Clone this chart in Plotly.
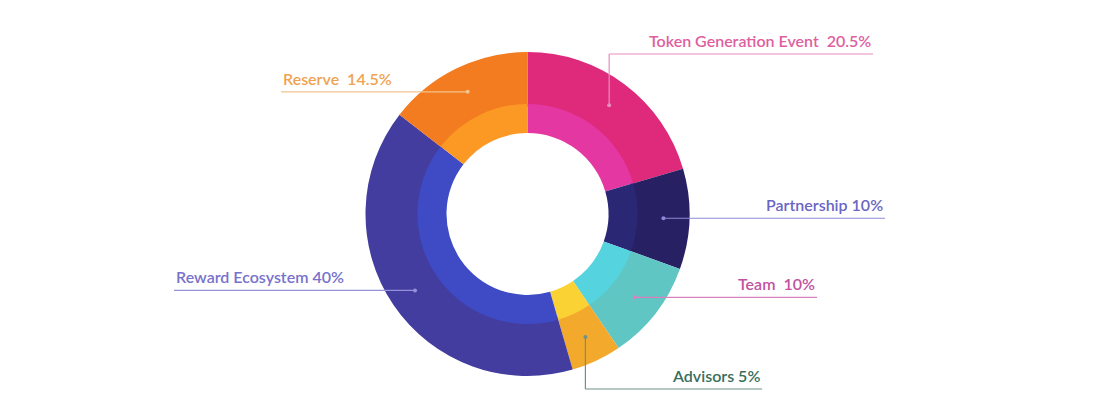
import math
import plotly.graph_objects as go

# ---- data ----
categories = ["Token Generation Event", "Partnership", "Team", "Advisors", "Reward Ecosystem", "Reserve"]
shares = [20.5, 10, 10, 5, 40, 14.5]
label_texts = ["Token Generation Event  20.5%", "Partnership 10%", "Team  10%", "Advisors 5%",
               "Reward Ecosystem 40%", "Reserve  14.5%"]

outer_colors = ["#df2a7c", "#272062", "#5fc6c4", "#f2a92c", "#433d9f", "#f27c1f"]
inner_colors = ["#e437a2", "#2a2774", "#55d3df", "#fbd234", "#3e4bc5", "#fb9924"]
text_colors = ["#de5fa0", "#6a66c3", "#c2529f", "#386e5e", "#7772cc", "#efa352"]
line_colors = ["#e88cc0", "#8d89d6", "#d982bd", "#6f9188", "#9490da", "#f3c48e"]

W, H = 1118, 399
OFF = 8  # page body margin
CX, CY = 527.5, 214.0
R_OUT, R_MID, R_HOLE = 162.0, 110.0, 81.0
R_DOT = (R_OUT + R_MID) / 2
FW, FH = W - OFF, H - OFF

fig = go.Figure()

def domain(r):
    return dict(x=[(CX - OFF - r) / FW, (CX - OFF + r) / FW],
                y=[1 - (CY - OFF + r) / FH, 1 - (CY - OFF - r) / FH])

fig.add_trace(go.Pie(labels=categories, values=shares, sort=False, direction="clockwise",
                     rotation=0, hole=(R_MID - 3) / R_OUT, domain=domain(R_OUT),
                     marker=dict(colors=outer_colors, line=dict(width=0)),
                     textinfo="none", hoverinfo="label+percent", showlegend=False))
fig.add_trace(go.Pie(labels=categories, values=shares, sort=False, direction="clockwise",
                     rotation=0, hole=R_HOLE / R_MID, domain=domain(R_MID),
                     marker=dict(colors=inner_colors, line=dict(width=0)),
                     textinfo="none", hoverinfo="label+percent", showlegend=False))

callouts = [
    ("vup", 873, 54),
    ("h", 885, None),
    ("h", 817, None),
    ("vdown", 762, 389),
    ("h", 174, None),
    ("h", 281, None),
]

total = sum(shares)
cum = 0.0
shapes = []
annotations = []
for i, v in enumerate(shares):
    mid = (cum + v / 2) / total * 2 * math.pi
    cum += v
    dx = CX + R_DOT * math.sin(mid)
    dy = CY - R_DOT * math.cos(mid)
    mode, ex, ly = callouts[i]
    col = line_colors[i]
    if mode == "h":
        ly = dy
        shapes.append(dict(type="line", x0=dx, y0=dy, x1=ex, y1=dy, xref="x", yref="y",
                           line=dict(color=col, width=1.2)))
    else:
        shapes.append(dict(type="line", x0=dx, y0=dy, x1=dx, y1=ly, xref="x", yref="y",
                           line=dict(color=col, width=1.2)))
        shapes.append(dict(type="line", x0=dx, y0=ly, x1=ex, y1=ly, xref="x", yref="y",
                           line=dict(color=col, width=1.2)))
    shapes.append(dict(type="circle", x0=dx - 2, y0=dy - 2, x1=dx + 2, y1=dy + 2, xref="x", yref="y",
                       fillcolor=col, line=dict(width=0)))
    right_side = ex > dx
    annotations.append(dict(x=ex, y=ly - 2, xref="x", yref="y", text=label_texts[i],
                            showarrow=False, xanchor="right" if right_side else "left",
                            yanchor="bottom",
                            font=dict(family="Lato", size=16, weight=600, color=text_colors[i])))

fig.update_layout(
    width=FW, height=FH, margin=dict(l=0, r=0, t=0, b=0),
    paper_bgcolor="white", plot_bgcolor="rgba(0,0,0,0)",
    xaxis=dict(range=[OFF, W], visible=False, fixedrange=True),
    yaxis=dict(range=[H, OFF], visible=False, fixedrange=True),
    shapes=shapes, annotations=annotations,
)

fig.write_html("out.html")
